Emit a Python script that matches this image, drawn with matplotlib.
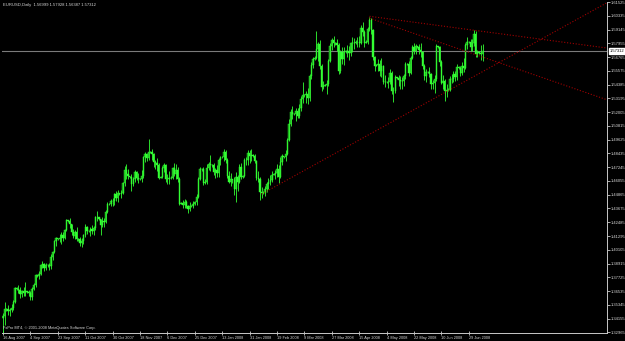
import matplotlib
matplotlib.use('Agg')
import matplotlib.pyplot as plt
import numpy as np
from matplotlib import transforms

# ---------------- data ----------------
first_open = 1.3425
closes = [
 1.3440, 1.3500, 1.3495, 1.3485, 1.3490, 1.3505, 1.3555, 1.3680,
 1.3675, 1.3660, 1.3625, 1.3650, 1.3640, 1.3650,
 1.3645, 1.3635, 1.3600, 1.3675, 1.3705, 1.3790,
 1.3785, 1.3805, 1.3875, 1.3885, 1.3850, 1.3880,
 1.3875, 1.3870, 1.3950, 1.3995, 1.4085, 1.4110,
 1.4105, 1.4115, 1.4140, 1.4110, 1.4180, 1.4265,
 1.4260, 1.4230, 1.4160, 1.4130, 1.4160, 1.4105,
 1.4100, 1.4070, 1.4085, 1.4135, 1.4205, 1.4175,
 1.4170, 1.4190, 1.4170, 1.4200, 1.4290, 1.4290,
 1.4280, 1.4225, 1.4260, 1.4250, 1.4340, 1.4410,
 1.4405, 1.4430, 1.4430, 1.4490, 1.4455, 1.4500,
 1.4495, 1.4505, 1.4590, 1.4700, 1.4665, 1.4645,
 1.4640, 1.4580, 1.4620, 1.4685, 1.4630, 1.4620,
 1.4625, 1.4645, 1.4810, 1.4840, 1.4805, 1.4860,
 1.4855, 1.4835, 1.4770, 1.4760, 1.4740, 1.4635,
 1.4640, 1.4720, 1.4745, 1.4620, 1.4625, 1.4630,
 1.4635, 1.4720, 1.4665, 1.4700, 1.4620, 1.4410,
 1.4415, 1.4400, 1.4420, 1.4390, 1.4360, 1.4385,
 1.4390, 1.4410, 1.4420, 1.4470, 1.4620, 1.4710,
 1.4705, 1.4590, 1.4600, 1.4720, 1.4750, 1.4740,
 1.4740, 1.4680, 1.4700, 1.4670, 1.4790, 1.4810,
 1.4815, 1.4860, 1.4790, 1.4650, 1.4600, 1.4620,
 1.4610, 1.4540, 1.4640, 1.4600, 1.4730, 1.4640,
 1.4645, 1.4790, 1.4790, 1.4850, 1.4820, 1.4830,
 1.4825, 1.4780, 1.4630, 1.4625, 1.4510, 1.4500,
 1.4505, 1.4540, 1.4580, 1.4600, 1.4610, 1.4660,
 1.4665, 1.4670, 1.4710, 1.4640, 1.4770, 1.4820,
 1.4815, 1.4840, 1.4960, 1.5100, 1.5200, 1.5180,
 1.5185, 1.5210, 1.5170, 1.5240, 1.5310, 1.5350,
 1.5345, 1.5360, 1.5320, 1.5510, 1.5610, 1.5660,
 1.5670, 1.5750, 1.5790, 1.5600, 1.5420, 1.5430,
 1.5435, 1.5440, 1.5640, 1.5770, 1.5820, 1.5800,
 1.5795, 1.5780, 1.5560, 1.5720, 1.5660, 1.5720,
 1.5725, 1.5730, 1.5710, 1.5800, 1.5800, 1.5800,
 1.5810, 1.5810, 1.5800, 1.5930, 1.5890, 1.5800,
 1.5810, 1.5920, 1.6000, 1.5910, 1.5680, 1.5600,
 1.5605, 1.5620, 1.5560, 1.5600, 1.5460, 1.5460,
 1.5460, 1.5460, 1.5540, 1.5380, 1.5380, 1.5500,
 1.5495, 1.5480, 1.5470, 1.5470, 1.5510, 1.5620,
 1.5615, 1.5540, 1.5670, 1.5760, 1.5730, 1.5770,
 1.5765, 1.5740, 1.5720, 1.5600, 1.5510, 1.5550,
 1.5545, 1.5530, 1.5440, 1.5450, 1.5490, 1.5770,
 1.5765, 1.5630, 1.5450, 1.5470, 1.5380, 1.5390,
 1.5395, 1.5490, 1.5490, 1.5530, 1.5500, 1.5590,
 1.5585, 1.5540, 1.5600, 1.5580, 1.5780, 1.5810,
 1.5805, 1.5760, 1.5800, 1.5880, 1.5700, 1.5720,
 1.5715, 1.5700, 1.57312,
]
highs = [
 1.3460, 1.3560, 1.3505, 1.3530, 1.3510, 1.3540, 1.3580, 1.3690,
 1.3685, 1.3705, 1.3690, 1.3665, 1.3690, 1.3730,
 1.3655, 1.3665, 1.3650, 1.3690, 1.3720, 1.3800,
 1.3795, 1.3830, 1.3885, 1.3915, 1.3900, 1.3900,
 1.3885, 1.3900, 1.3970, 1.4000, 1.4095, 1.4125,
 1.4115, 1.4150, 1.4165, 1.4165, 1.4190, 1.4280,
 1.4270, 1.4285, 1.4230, 1.4190, 1.4180, 1.4210,
 1.4110, 1.4120, 1.4110, 1.4150, 1.4230, 1.4215,
 1.4180, 1.4210, 1.4225, 1.4215, 1.4305, 1.4350,
 1.4295, 1.4270, 1.4290, 1.4285, 1.4355, 1.4420,
 1.4415, 1.4450, 1.4460, 1.4500, 1.4515, 1.4525,
 1.4505, 1.4530, 1.4600, 1.4735, 1.4750, 1.4710,
 1.4650, 1.4665, 1.4640, 1.4700, 1.4695, 1.4670,
 1.4635, 1.4700, 1.4820, 1.4860, 1.4850, 1.4967,
 1.4865, 1.4885, 1.4850, 1.4790, 1.4800, 1.4760,
 1.4650, 1.4735, 1.4765, 1.4755, 1.4665, 1.4690,
 1.4645, 1.4730, 1.4760, 1.4750, 1.4730, 1.4640,
 1.4425, 1.4440, 1.4450, 1.4440, 1.4400, 1.4420,
 1.4395, 1.4430, 1.4430, 1.4490, 1.4640, 1.4730,
 1.4715, 1.4730, 1.4620, 1.4750, 1.4770, 1.4830,
 1.4750, 1.4760, 1.4720, 1.4740, 1.4800, 1.4820,
 1.4825, 1.4880, 1.4870, 1.4800, 1.4690, 1.4670,
 1.4620, 1.4640, 1.4680, 1.4660, 1.4750, 1.4760,
 1.4655, 1.4800, 1.4810, 1.4870, 1.4870, 1.4880,
 1.4835, 1.4840, 1.4790, 1.4690, 1.4640, 1.4550,
 1.4515, 1.4560, 1.4600, 1.4630, 1.4660, 1.4690,
 1.4675, 1.4700, 1.4750, 1.4740, 1.4810, 1.4840,
 1.4825, 1.4870, 1.4980, 1.5140, 1.5230, 1.5250,
 1.5195, 1.5240, 1.5240, 1.5270, 1.5340, 1.5460,
 1.5355, 1.5380, 1.5410, 1.5530, 1.5630, 1.5680,
 1.5690, 1.5900, 1.5810, 1.5820, 1.5620, 1.5470,
 1.5445, 1.5480, 1.5660, 1.5800, 1.5840, 1.5860,
 1.5805, 1.5830, 1.5800, 1.5740, 1.5760, 1.5760,
 1.5735, 1.5780, 1.5770, 1.5810, 1.5850, 1.5840,
 1.5820, 1.5850, 1.5860, 1.5950, 1.5980, 1.5910,
 1.5820, 1.5940, 1.6019, 1.6010, 1.5920, 1.5690,
 1.5615, 1.5660, 1.5650, 1.5670, 1.5610, 1.5520,
 1.5470, 1.5500, 1.5570, 1.5560, 1.5420, 1.5520,
 1.5505, 1.5520, 1.5510, 1.5500, 1.5530, 1.5630,
 1.5625, 1.5640, 1.5690, 1.5780, 1.5800, 1.5790,
 1.5775, 1.5790, 1.5800, 1.5730, 1.5620, 1.5570,
 1.5555, 1.5590, 1.5540, 1.5480, 1.5520, 1.5790,
 1.5775, 1.5770, 1.5650, 1.5520, 1.5490, 1.5440,
 1.5405, 1.5510, 1.5530, 1.5560, 1.5560, 1.5620,
 1.5595, 1.5600, 1.5630, 1.5670, 1.5800, 1.5850,
 1.5815, 1.5830, 1.5830, 1.5910, 1.5900, 1.5740,
 1.5725, 1.5780, 1.57928,
]
lows = [
 1.3291, 1.3360, 1.3485, 1.3450, 1.3440, 1.3470, 1.3490, 1.3550,
 1.3665, 1.3640, 1.3590, 1.3600, 1.3610, 1.3610,
 1.3635, 1.3615, 1.3575, 1.3580, 1.3660, 1.3685,
 1.3775, 1.3760, 1.3790, 1.3850, 1.3830, 1.3840,
 1.3865, 1.3840, 1.3845, 1.3925, 1.3980, 1.4040,
 1.4095, 1.4080, 1.4060, 1.4085, 1.4100, 1.4170,
 1.4250, 1.4200, 1.4140, 1.4110, 1.4105, 1.4090,
 1.4090, 1.4040, 1.4035, 1.4060, 1.4120, 1.4150,
 1.4160, 1.4130, 1.4150, 1.4140, 1.4185, 1.4260,
 1.4270, 1.4140, 1.4210, 1.4210, 1.4240, 1.4330,
 1.4395, 1.4390, 1.4390, 1.4400, 1.4430, 1.4420,
 1.4485, 1.4455, 1.4490, 1.4560, 1.4620, 1.4625,
 1.4630, 1.4520, 1.4560, 1.4600, 1.4610, 1.4590,
 1.4615, 1.4600, 1.4635, 1.4770, 1.4780, 1.4790,
 1.4845, 1.4790, 1.4730, 1.4705, 1.4690, 1.4620,
 1.4630, 1.4630, 1.4680, 1.4600, 1.4580, 1.4580,
 1.4625, 1.4620, 1.4650, 1.4620, 1.4600, 1.4400,
 1.4405, 1.4370, 1.4375, 1.4370, 1.4330, 1.4345,
 1.4380, 1.4370, 1.4400, 1.4400, 1.4460, 1.4610,
 1.4695, 1.4570, 1.4580, 1.4580, 1.4700, 1.4690,
 1.4730, 1.4660, 1.4630, 1.4640, 1.4640, 1.4740,
 1.4805, 1.4780, 1.4760, 1.4630, 1.4590, 1.4560,
 1.4590, 1.4480, 1.4420, 1.4520, 1.4590, 1.4620,
 1.4635, 1.4640, 1.4740, 1.4740, 1.4760, 1.4780,
 1.4815, 1.4760, 1.4610, 1.4600, 1.4440, 1.4460,
 1.4495, 1.4475, 1.4510, 1.4540, 1.4570, 1.4600,
 1.4655, 1.4620, 1.4640, 1.4590, 1.4630, 1.4740,
 1.4805, 1.4780, 1.4830, 1.4950, 1.5080, 1.5140,
 1.5175, 1.5120, 1.5150, 1.5150, 1.5210, 1.5280,
 1.5335, 1.5280, 1.5270, 1.5300, 1.5490, 1.5580,
 1.5650, 1.5660, 1.5640, 1.5570, 1.5380, 1.5400,
 1.5425, 1.5360, 1.5430, 1.5630, 1.5740, 1.5760,
 1.5785, 1.5730, 1.5530, 1.5540, 1.5620, 1.5610,
 1.5715, 1.5680, 1.5650, 1.5690, 1.5720, 1.5750,
 1.5790, 1.5760, 1.5760, 1.5790, 1.5860, 1.5760,
 1.5795, 1.5790, 1.5900, 1.5880, 1.5650, 1.5560,
 1.5595, 1.5560, 1.5510, 1.5500, 1.5440, 1.5420,
 1.5450, 1.5410, 1.5440, 1.5360, 1.5285, 1.5370,
 1.5485, 1.5430, 1.5400, 1.5400, 1.5430, 1.5490,
 1.5605, 1.5510, 1.5530, 1.5660, 1.5700, 1.5700,
 1.5755, 1.5700, 1.5680, 1.5570, 1.5480, 1.5460,
 1.5535, 1.5500, 1.5400, 1.5400, 1.5370, 1.5470,
 1.5755, 1.5600, 1.5440, 1.5400, 1.5300, 1.5330,
 1.5385, 1.5380, 1.5450, 1.5460, 1.5470, 1.5480,
 1.5575, 1.5510, 1.5520, 1.5550, 1.5570, 1.5750,
 1.5795, 1.5730, 1.5730, 1.5770, 1.5680, 1.5680,
 1.5705, 1.5650, 1.56387,
]

date_labels = ["16 Aug 2007", "4 Sep 2007", "23 Sep 2007", "11 Oct 2007",
               "30 Oct 2007", "18 Nov 2007", "6 Dec 2007", "25 Dec 2007",
               "13 Jan 2008", "31 Jan 2008", "19 Feb 2008", "9 Mar 2008",
               "27 Mar 2008", "15 Apr 2008", "4 May 2008", "22 May 2008",
               "10 Jun 2008", "29 Jun 2008"]
date_label_bars = [0, 16, 32, 48, 64, 80, 96, 112, 128, 144, 160, 176,
                   192, 208, 224, 240, 256, 272]

price_labels = ["1.61525", "1.60335", "1.59145", "1.57955", "1.56765",
                "1.55575", "1.54385", "1.53195", "1.52005", "1.50815",
                "1.49625", "1.48435", "1.47245", "1.46055", "1.44865",
                "1.43675", "1.42485", "1.41295", "1.40105", "1.38915",
                "1.37725", "1.36535", "1.35345", "1.34155", "1.32965"]
price_ticks = [float(s) for s in price_labels]

last_price = 1.57312
title_text = "EURUSD,Daily  1.56999 1.57928 1.56387 1.57312"
copyright_text = "FxPro MT4, \u00a9 2001-2008 MetaQuotes Software Corp."

# trend lines: (bar1, price1, bar2, price2)
trend_lines = [
    (151, 1.4492, 353.5, 1.6153),
    (214, 1.6029, 353.5, 1.5753),
    (214, 1.6013, 353.5, 1.5303),
]

# ---------------- drawing ----------------
BG = '#000000'
FG = '#d8d8d8'
BULL = '#169c16'
BEAR = '#33ff33'
WICK = '#33ff33'
plt.rcParams['font.family'] = ['Liberation Sans', 'DejaVu Sans']

fig = plt.figure(figsize=(6.25, 3.41), dpi=100, facecolor=BG)
ax = fig.add_axes([2/625, 8/341, 605/625, 331/341], facecolor=BG)

n = len(closes)
x = np.arange(n)
opens = np.array([first_open] + closes[:-1])
c = np.array(closes)
h = np.maximum(np.array(highs), np.maximum(opens, c))
l = np.minimum(np.array(lows), np.minimum(opens, c))

ax.vlines(x, l, h, colors=WICK, lw=0.6)
up = c >= opens
body_bottom = np.minimum(opens, c)
body_h = np.abs(c - opens)
ax.bar(x[up], body_h[up], bottom=body_bottom[up], width=0.75, color=BULL,
       edgecolor=WICK, linewidth=0.3)
ax.bar(x[~up], body_h[~up], bottom=body_bottom[~up], width=0.75, color=BEAR,
       edgecolor=WICK, linewidth=0.3)

# bid line
ax.axhline(last_price, color='#7a7a7a', lw=0.8, zorder=0.5)

# trend lines
for b1, p1, b2, p2 in trend_lines:
    ax.plot([b1, b2], [p1, p2], color='#a00000', lw=0.8,
            linestyle=(0, (1, 1.6)), zorder=3)

px_per_bar = 1.7125
ax.set_xlim(-1.0 / px_per_bar, -1.0 / px_per_bar + 605 / px_per_bar)
ax.set_ylim(1.32911, 1.61509)

for side in ['top', 'left']:
    ax.spines[side].set_visible(False)
for side in ['right', 'bottom']:
    ax.spines[side].set_color('#c8c8c8')
    ax.spines[side].set_linewidth(0.7)

ax.yaxis.tick_right()
ax.set_yticks(price_ticks)
ax.set_yticklabels(price_labels)
ax.tick_params(axis='y', colors='#c8c8c8', labelcolor=FG, length=2,
               width=0.6, pad=1, labelsize=3.0)

ax.set_xticks(date_label_bars)
ax.set_xticklabels(date_labels)
ax.tick_params(axis='x', colors='#c8c8c8', labelcolor=FG, length=3,
               width=0.6, pad=0.5, labelsize=2.8, direction='inout')
for lbl in ax.get_xticklabels():
    lbl.set_ha('left')

# price box for last price
trans = transforms.blended_transform_factory(ax.transAxes, ax.transData)
ax.text(1.0 + 3/605, last_price, price_labels and "1.57312", transform=trans,
        ha='left', va='center', fontsize=3.0, color='black',
        bbox=dict(boxstyle='square,pad=0.25', facecolor='white',
                  edgecolor='white'), clip_on=False, zorder=5)

fig.text(3/625, 1 - 5/341, title_text, ha='left', va='center',
         fontsize=3.0, color=FG)
fig.text(3/625, 1 - 328/341, copyright_text, ha='left', va='center',
         fontsize=2.8, color=FG)

fig.savefig('out.png', dpi=100, facecolor=BG)
